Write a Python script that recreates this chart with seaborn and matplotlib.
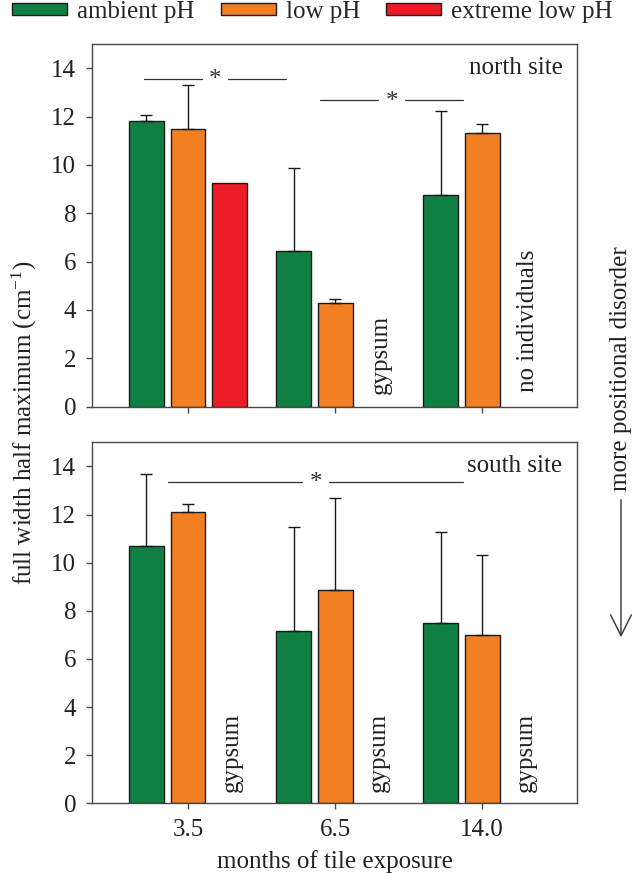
import numpy as np
import pandas as pd
import matplotlib
matplotlib.use("Agg")
import matplotlib.pyplot as plt
import seaborn as sns

# ---------------- data ----------------
months = ["3.5", "6.5", "14.0"]
treatments = ["ambient pH", "low pH", "extreme low pH"]

# north site (mean, upper end of error bar); None = no bar
north_ambient = [11.80, 6.45, 8.76]
north_ambient_err = [12.05, 9.85, 12.21]
north_low = [11.47, 4.30, 11.33]
north_low_err = [13.32, 4.45, 11.71]
north_extreme = [9.25, None, None]
north_extreme_err = [None, None, None]

# south site
south_ambient = [10.70, 7.18, 7.48]
south_ambient_err = [13.70, 11.46, 11.28]
south_low = [12.12, 8.85, 6.98]
south_low_err = [12.45, 12.68, 10.32]
south_extreme = [None, None, None]
south_extreme_err = [None, None, None]

colors = ["#0f8042", "#f28023", "#ec1c26"]

# significance annotations: (x_start, x_end, y)
north_sig = [(-0.30, 0.665, 13.57), (0.90, 1.87, 12.67)]
south_sig = [(-0.135, 1.87, 13.37)]


def make_df(vals, errs):
    rows = []
    for t, v_list, e_list in zip(treatments, vals, errs):
        for m, v, e in zip(months, v_list, e_list):
            if v is not None:
                rows.append({"month": m, "treatment": t, "value": v, "upper": e})
    return pd.DataFrame(rows)


north_df = make_df([north_ambient, north_low, north_extreme],
                   [north_ambient_err, north_low_err, north_extreme_err])
south_df = make_df([south_ambient, south_low, south_extreme],
                   [south_ambient_err, south_low_err, south_extreme_err])

# ---------------- style ----------------
sns.set_style("ticks")
plt.rcParams["font.family"] = ["Liberation Serif", "DejaVu Serif"]
plt.rcParams["mathtext.fontset"] = "custom"
plt.rcParams["mathtext.rm"] = "Liberation Serif"
plt.rcParams["mathtext.it"] = "Liberation Serif:italic"
FS = 18
spine_c = "#4a4a4a"
text_c = "#222222"

W, H = 635, 874
fig = plt.figure(figsize=(W / 100, H / 100), dpi=100)


def px_axes(l, r, t, b):
    return fig.add_axes([l / W, 1 - b / H, (r - l) / W, (b - t) / H])


ax_n = px_axes(92, 577, 44, 406.5)
ax_s = px_axes(92, 577, 442.3, 803.3)

pal = dict(zip(treatments, colors))


def draw_panel(ax, df, sig, show_legend):
    sns.barplot(data=df, x="month", y="value", hue="treatment",
                order=months, hue_order=treatments, palette=pal,
                width=0.847, gap=0.157, edgecolor="#1a1a1a", linewidth=1.0,
                errorbar=None, ax=ax, legend=show_legend, saturation=1)
    # error bars (upper only)
    for p in ax.patches:
        h = p.get_height()
        if not np.isfinite(h) or h == 0:
            continue
        match = df[np.isclose(df["value"], h)]
        if len(match) == 0:
            continue
        up = match["upper"].iloc[0]
        if up is None or not np.isfinite(up):
            continue
        xc = p.get_x() + p.get_width() / 2
        ax.errorbar([xc], [h], yerr=[[0], [up - h]], fmt="none",
                    ecolor="#1a1a1a", elinewidth=1.0, capsize=4.6,
                    capthick=1.0, zorder=1)
    for (x0, x1, y) in sig:
        mid = (x0 + x1) / 2
        gap = 0.09
        ax.plot([x0, mid - gap], [y, y], color="#333333", lw=0.9)
        ax.plot([mid + gap, x1], [y, y], color="#333333", lw=0.9)
        ax.text(mid, y - 0.08, "*", ha="center", va="center",
                fontsize=FS, color="#333333")
    ax.set_xlim(-0.653, 2.646)
    ax.set_ylim(0, 15)
    ax.set_yticks(np.arange(0, 15, 2))
    ax.set_xlabel("")
    ax.set_ylabel("")
    for s in ax.spines.values():
        s.set_color(spine_c)
        s.set_linewidth(1.0)
    ax.tick_params(axis="both", direction="out", length=4.5, width=1.0,
                   color=spine_c, labelsize=FS, labelcolor=text_c, pad=7)


draw_panel(ax_n, north_df, north_sig, True)
draw_panel(ax_s, south_df, south_sig, False)

ax_n.set_xticklabels([])

# legend at the top of the figure
handles, labels = ax_n.get_legend_handles_labels()
ax_n.get_legend().remove()
fig.legend(handles, labels, loc="center left",
           bbox_to_anchor=(12 / W, 1 - 12 / H), ncol=3, frameon=False,
           fontsize=FS, handlelength=2.2, handleheight=0.4,
           handletextpad=0.4, columnspacing=1.05, borderpad=0,
           borderaxespad=0)

# panel annotations
ax_n.text(0.97, 0.935, "north site", transform=ax_n.transAxes,
          ha="right", va="center", fontsize=FS, color=text_c)
ax_s.text(0.97, 0.935, "south site", transform=ax_s.transAxes,
          ha="right", va="center", fontsize=FS, color=text_c)

ax_n.text(1.31, 0.5, "gypsum", rotation=90, ha="center", va="bottom",
          fontsize=FS, color=text_c)
ax_n.text(2.31, 0.6, "no individuals", rotation=90, ha="center",
          va="bottom", fontsize=FS, color=text_c)
for i in range(3):
    ax_s.text(i + 0.30, 0.45, "gypsum", rotation=90, ha="center",
              va="bottom", fontsize=FS, color=text_c)

# axis labels
fig.text(24 / W, 1 - 423 / H, "full width half maximum (cm$^{-1}$)",
         rotation=90, ha="center", va="center", fontsize=FS, color=text_c)
fig.text((92 + 577) / 2 / W, 1 - 862 / H, "months of tile exposure",
         ha="center", va="center", fontsize=FS, color=text_c)

# right side note with arrow
fig.text(621 / W, 1 - 369 / H, "more positional disorder", rotation=90,
         ha="center", va="center", fontsize=FS, color=text_c)
fig.add_artist(matplotlib.patches.FancyArrowPatch(
    (621 / W, 1 - 497 / H), (621 / W, 1 - 640 / H),
    transform=fig.transFigure, arrowstyle="->,head_length=6,head_width=3",
    color="#333333", lw=1.0, mutation_scale=2.5))

fig.savefig("out.png", dpi=100)
